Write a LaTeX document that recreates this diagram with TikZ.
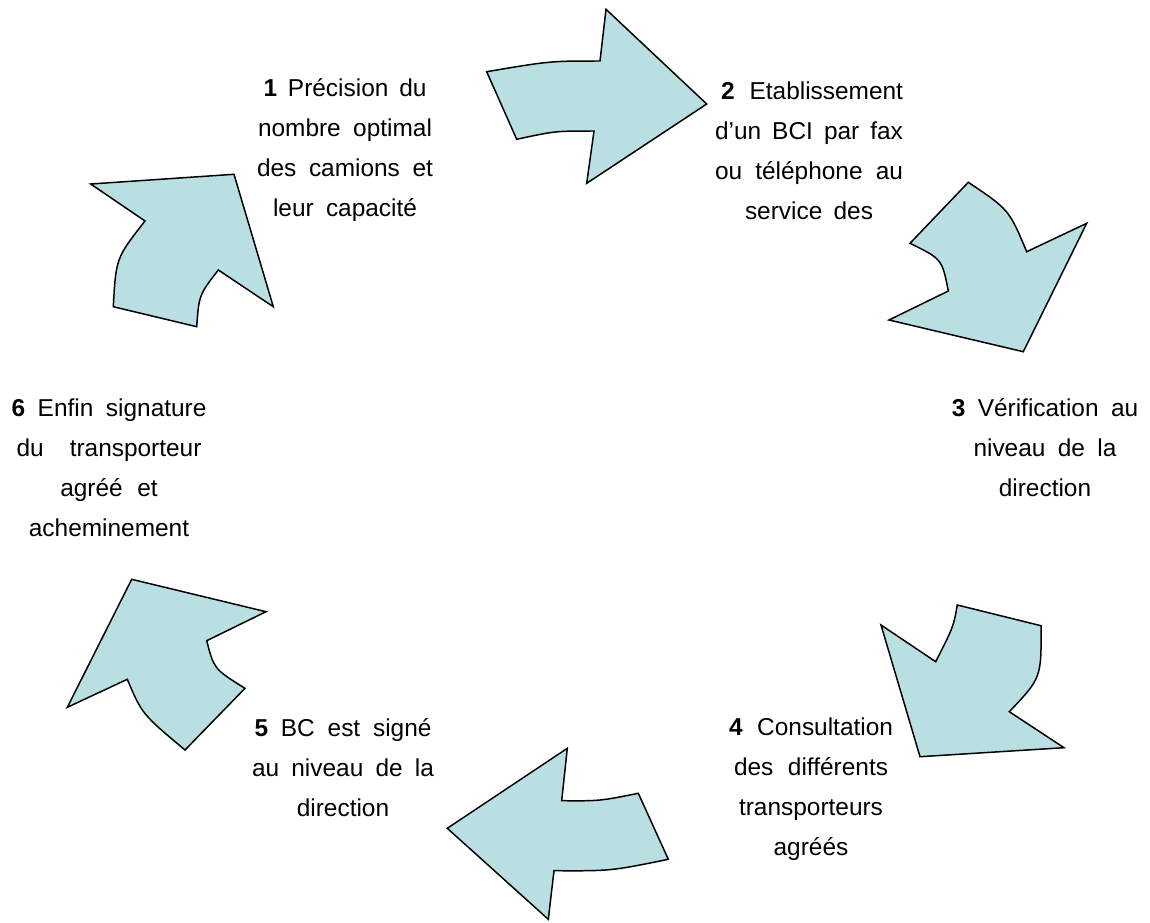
\documentclass[tikz,border=0pt]{standalone}
\usepackage{fontspec}
\setmainfont{Liberation Sans}
\definecolor{FlecheAqua}{HTML}{B9DFE3}
\newcommand{\jline}[2]{\makebox[#1cm][s]{#2}}

\begin{document}
\begin{tikzpicture}[x=0.02cm, y=-0.02cm,
        fleche/.style={draw=black, fill=FlecheAqua, line width=0.85pt},
        etape/.style={align=center, inner sep=0pt, anchor=base,
            font=\fontsize{13.9}{22.8}\selectfont}]
        \useasboundingbox (0,0) rectangle (1150,923);
        % curved arrows, clockwise from the top
        \draw[fleche] (486.7,71.7) .. controls (550,61) .. (600,61) -- (606,9.3) -- (706.7,104)
            -- (586.7,183.3) -- (594,131) .. controls (555,131) .. (516.7,139.3) -- cycle;
        \draw[fleche] (968.3,182.3) .. controls (1009,209.6) .. (1026.7,251.7) -- (1086.7,223.3)
            -- (1023.3,351.7) -- (889,320) -- (948.3,291) .. controls (942,259) .. (910,243.3) -- cycle;
        \draw[fleche] (957.3,605) -- (1041,625.7) .. controls (1041.4,677.9) .. (1009.3,711.7)
            -- (1064,747.7) -- (920,756.7) -- (881,625) -- (935.7,661.7)
            .. controls (953.5,626.6) .. (957.3,605) -- cycle;
        \draw[fleche] (567.3,748.3) -- (561.7,800.7) .. controls (600,801) .. (638.3,793.3)
            -- (668.3,859.3) .. controls (611,871) .. (554,870.7) -- (548.3,919.3) -- (447.3,828.3) -- cycle;
        \draw[fleche] (131.7,579.3) -- (266,611.7) -- (206.7,640.7) .. controls (214,669) .. (245,688.3)
            -- (185,750) .. controls (142,714) .. (127.3,679.3) -- (67.3,707.3) -- cycle;
        \draw[fleche] (90.7,184) -- (234,174.3) -- (273.3,306.7) -- (218.3,270) .. controls (199,295) .. (196.7,326.7)
            -- (113.3,306.7) .. controls (116,258) .. (145,221) -- cycle;

        % texts of the six steps
        \node[etape, text width=3.52cm] (etape1) at (345,96.7)
            {\jline{3.26}{\textbf{1}\hfill Précision\hfill du}\\ \jline{3.48}{nombre\hfill optimal}\\
             \jline{3.52}{des\hfill camions\hfill et}\\ \jline{2.88}{leur\hfill capacité}};
        \node[etape, text width=3.76cm] (etape2) at (809,99)
            {\hfill\jline{3.64}{\textbf{2}\hfill Etablissement}\\ \jline{3.76}{d’un\hfill BCI\hfill par\hfill fax}\\
             \jline{3.76}{ou\hfill téléphone\hfill au}\\ \jline{2.56}{service\hfill des}};
        \node[etape, text width=3.73cm] (etape3) at (1045,416.7)
            {\jline{3.73}{\textbf{3}\hfill Vérification\hfill au}\\ \jline{2.86}{niveau\hfill de\hfill la}\\ direction};
        \node[etape, text width=3.28cm] (etape4) at (811,735)
            {\jline{3.28}{\textbf{4}\hfill Consultation}\\ \jline{3.08}{des\hfill différents}\\
             transporteurs\\ agréés};
        \node[etape, text width=3.64cm] (etape5) at (343,736)
            {\jline{3.54}{\textbf{5}\hfill BC\hfill est\hfill signé}\\ \jline{3.64}{au\hfill niveau\hfill de\hfill la}\\ direction};
        \node[etape, text width=3.9cm] (etape6) at (109,416.7)
            {\jline{3.9}{\textbf{6}\hfill Enfin\hfill signature}\\ \jline{3.70}{du\hfill transporteur}\\
             \jline{1.95}{agréé\hfill et}\\ acheminement};
\end{tikzpicture}
\end{document}
